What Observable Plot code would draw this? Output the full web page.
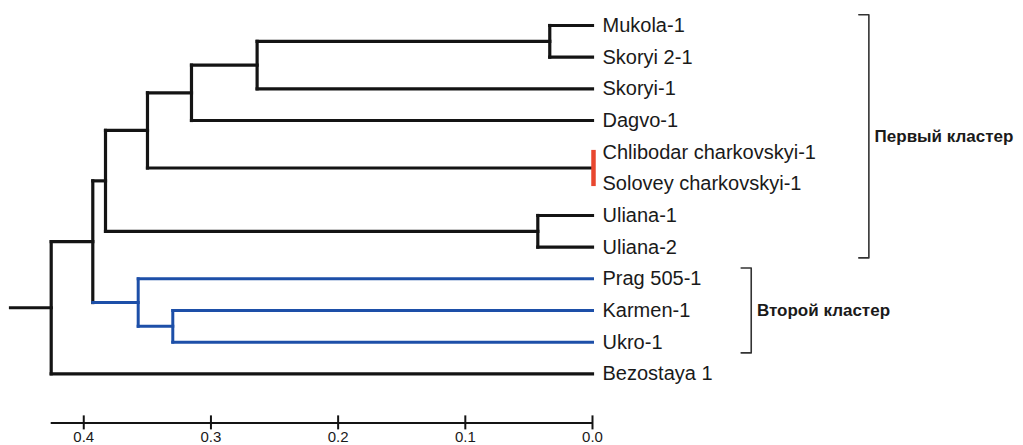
<!DOCTYPE html>
<html>
<head>
<meta charset="utf-8">
<script src="https://cdn.jsdelivr.net/npm/d3@7"></script>
<script src="https://cdn.jsdelivr.net/npm/@observablehq/plot@0.6"></script>
<style>
  body { margin: 0; background: #fff; }
  #chart svg { display: block; }
</style>
</head>
<body>
<div id="chart"></div>
<script>
// ---- Data ----
const leaves = ["Mukola-1", "Skoryi 2-1", "Skoryi-1", "Dagvo-1", "Chlibodar charkovskyi-1",
  "Solovey charkovskyi-1", "Uliana-1", "Uliana-2", "Prag 505-1", "Karmen-1", "Ukro-1", "Bezostaya 1"];
const mergeIds    = ["H", "E", "D", "CS", "C", "U", "B", "G", "F", "A", "R"];
const mergeLeft   = ["Mukola-1", "H", "E", "Chlibodar charkovskyi-1", "D", "Uliana-1", "C", "Karmen-1", "Prag 505-1", "B", "A"];
const mergeRight  = ["Skoryi 2-1", "Skoryi-1", "Dagvo-1", "Solovey charkovskyi-1", "CS", "Uliana-2", "U", "Ukro-1", "G", "F", "Bezostaya 1"];
const mergeHeight = [0.0336, 0.2637, 0.3153, 0.0, 0.3499, 0.0430, 0.3829, 0.3300, 0.3572, 0.3929, 0.4256];
const blueNodes   = ["F", "G", "Prag 505-1", "Karmen-1", "Ukro-1"];
const redNodes    = ["CS"];
const axisTicks   = [0.4, 0.3, 0.2, 0.1, 0.0];
const clusterNames = ["Первый кластер", "Второй кластер"];
const clusterFirst = [0, 8];
const clusterLast  = [7, 10];

// ---- Layout constants ----
const BLACK = "#141414", BLUE = "#1d4fa8", RED = "#e8472f";
const xRange = [50.7, 592];
const yRange = [25, 373.3];
const axisRow = 12.55;
const stubLen = 0.032;
const bracketX = [-0.2173, -0.1248];
const bracketTick = 0.0079;
const bracketPad = 0.34;
const labelGap = 0.0045;

// ---- Build tree geometry ----
const node = new Map();
leaves.forEach((name, i) => node.set(name, {h: 0, y: i}));
mergeIds.forEach((id, k) => {
  const a = node.get(mergeLeft[k]), b = node.get(mergeRight[k]);
  node.set(id, {h: mergeHeight[k], y: (a.y + b.y) / 2});
});
const colorOf = (n) => blueNodes.includes(n) ? BLUE : BLACK;
const segs = [];
const redSegs = [];
mergeIds.forEach((id, k) => {
  const m = node.get(id);
  const kids = [mergeLeft[k], mergeRight[k]];
  const ya = node.get(kids[0]).y, yb = node.get(kids[1]).y;
  if (redNodes.includes(id)) {
    redSegs.push({x1: m.h, x2: m.h, y1: ya, y2: yb});
  } else {
    segs.push({x1: m.h, x2: m.h, y1: ya, y2: yb, color: colorOf(id)});
  }
  for (const c of kids) {
    const cn = node.get(c);
    if (cn.h !== m.h) segs.push({x1: m.h, x2: cn.h, y1: cn.y, y2: cn.y, color: colorOf(c)});
  }
});
const root = node.get("R");
const rootH = root.h;
segs.push({x1: rootH + stubLen, x2: rootH, y1: root.y, y2: root.y, color: BLACK});

const bracketPts = [];
clusterNames.forEach((name, i) => {
  const top = clusterFirst[i] - bracketPad, bot = clusterLast[i] + bracketPad;
  const bx = bracketX[i];
  bracketPts.push({c: name, x: bx + bracketTick, y: top});
  bracketPts.push({c: name, x: bx, y: top});
  bracketPts.push({c: name, x: bx, y: bot});
  bracketPts.push({c: name, x: bx + bracketTick, y: bot});
});

const blackSegs = segs.filter(s => s.color === BLACK);
const blueSegs = segs.filter(s => s.color === BLUE);

const chart = Plot.plot({
  width: 1023,
  height: 445,
  style: {fontFamily: "'Liberation Sans', Arial, Helvetica, sans-serif", background: "#fff"},
  x: {domain: [rootH, 0], range: xRange, axis: null},
  y: {domain: [0, 11], range: yRange, axis: null},
  marks: [
    Plot.link(blackSegs, {x1: "x1", x2: "x2", y1: "y1", y2: "y2", stroke: BLACK, strokeWidth: 3.2, strokeLinecap: "square"}),
    Plot.link(blueSegs, {x1: "x1", x2: "x2", y1: "y1", y2: "y2", stroke: BLUE, strokeWidth: 3, strokeLinecap: "square"}),
    Plot.link(redSegs, {x1: "x1", x2: "x2", y1: "y1", y2: "y2", stroke: RED, strokeWidth: 4.5, strokeLinecap: "square", dx: 1}),
    Plot.text(leaves, {x: () => 0, y: (d, i) => i, text: d => d, textAnchor: "start", dx: 10, fontSize: 20, fill: "#1a1a1a"}),
    // axis
    Plot.ruleY([axisRow], {y: d => d, x1: () => rootH, x2: () => 0, stroke: BLACK, strokeWidth: 2}),
    Plot.ruleX(axisTicks, {x: d => d, y1: () => axisRow, y2: () => axisRow, insetTop: -7, insetBottom: -7, stroke: BLACK, strokeWidth: 2}),
    Plot.text(axisTicks, {x: d => d, y: () => axisRow, dy: 14.5, text: d => d.toFixed(1), fontSize: 15, fill: "#1a1a1a"}),
    // cluster brackets
    Plot.line(bracketPts, {x: "x", y: "y", z: "c", stroke: "#333", strokeWidth: 1.6, curve: "linear"}),
    Plot.text(clusterNames, {x: (d, i) => bracketX[i] - labelGap, y: (d, i) => (clusterFirst[i] + clusterLast[i]) / 2,
      text: d => d, textAnchor: "start", fontSize: 17, fontWeight: "bold", fill: "#1a1a1a"})
  ]
});
document.getElementById("chart").append(chart);
</script>
</body>
</html>
